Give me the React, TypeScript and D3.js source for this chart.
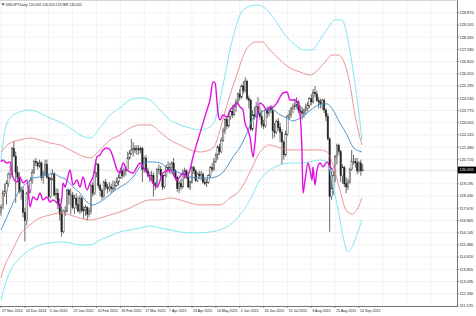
import React from 'react';
import * as d3 from 'd3';

const W = 476;
const H = 316;

// OHLC per daily bar: [open, high, low, close]
const candles: [number, number, number, number][] = [
  [117.40,117.90,117.20,117.70],[117.70,118.80,117.60,118.60],[118.60,119.20,118.40,118.70],[118.70,119.40,117.90,119.20],
  [119.20,119.90,119.00,119.80],[119.80,120.30,119.50,119.80],[119.80,121.50,119.60,121.40],[121.40,121.85,120.90,120.90],
  [120.90,121.20,118.00,119.90],[119.90,120.30,119.30,119.60],[119.60,119.90,118.60,118.70],[118.70,119.00,118.20,118.80],
  [118.80,119.00,117.10,117.40],[117.40,117.70,115.60,116.90],[116.90,118.70,116.60,118.60],[118.60,119.10,118.20,118.80],
  [118.80,119.60,118.60,119.40],[119.40,120.10,119.20,119.90],[119.90,120.70,119.80,120.60],[120.60,120.80,120.30,120.50],
  [120.50,120.60,120.10,120.30],[120.30,120.70,120.20,120.50],[120.50,120.60,119.40,119.60],[119.60,120.00,119.20,119.80],
  [119.80,120.70,119.70,120.40],[120.40,120.70,119.50,119.60],[119.60,119.80,118.10,118.40],[118.40,119.60,118.30,119.50],
  [119.50,120.10,119.40,119.80],[119.80,119.90,118.40,118.50],[118.50,118.90,118.20,118.60],[118.60,118.90,117.60,117.90],
  [117.90,118.30,116.90,117.30],[117.30,117.80,115.90,116.20],[116.20,117.60,116.10,117.50],[117.50,117.80,117.20,117.50],
  [117.50,118.90,117.40,118.80],[118.80,118.90,117.90,118.50],[118.50,118.90,117.30,118.50],[118.50,118.70,117.60,117.70],
  [117.70,118.50,117.30,118.30],[118.30,118.60,117.60,117.90],[117.90,118.40,117.40,117.50],[117.50,118.50,117.30,118.30],
  [118.30,118.40,117.40,117.50],[117.50,117.80,117.00,117.60],[117.60,117.90,117.20,117.70],[117.70,117.80,116.90,117.30],
  [117.30,117.70,117.10,117.50],[117.50,119.20,117.30,119.10],[119.10,119.30,118.40,118.60],[118.60,120.00,118.50,119.90],
  [119.90,120.50,119.60,120.40],[120.40,120.50,118.90,119.10],[119.10,119.20,118.40,118.80],[118.80,118.90,118.20,118.40],
  [118.40,119.40,118.30,119.30],[119.30,119.50,118.80,119.00],[119.00,119.20,118.60,118.90],[118.90,119.30,118.70,119.00],
  [119.00,119.20,118.60,118.90],[118.90,119.40,118.70,118.90],[118.90,119.40,118.80,119.10],[119.10,119.60,119.00,119.30],
  [119.30,119.80,119.10,119.60],[119.60,120.20,119.50,120.00],[120.00,120.10,119.50,119.70],[119.70,120.20,119.60,120.00],
  [120.00,120.20,119.70,120.10],[120.10,121.20,120.00,120.80],[120.80,121.30,120.70,121.10],[121.10,122.00,121.00,121.30],
  [121.30,121.80,120.90,121.40],[121.40,121.60,121.10,121.30],[121.30,121.60,121.00,121.40],[121.40,121.60,121.00,121.30],
  [121.30,121.50,121.10,121.40],[121.40,121.50,119.30,120.10],[120.10,120.90,119.90,120.80],[120.80,121.00,119.90,120.00],
  [120.00,120.20,119.60,119.70],[119.70,119.90,119.30,119.70],[119.70,120.00,119.40,119.70],[119.70,119.90,118.40,119.20],
  [119.20,119.30,118.80,119.10],[119.10,120.20,119.00,120.10],[120.10,120.40,119.80,120.10],[120.10,120.30,119.60,119.70],
  [119.70,119.80,118.80,119.00],[119.00,119.80,118.90,119.70],[119.70,120.40,119.60,120.20],[120.20,120.60,119.90,120.10],
  [120.10,120.50,119.80,120.20],[120.20,120.60,120.00,120.50],[120.50,120.80,119.80,120.00],[120.00,120.10,119.40,119.60],
  [119.60,119.70,118.70,118.90],[118.90,119.40,118.60,119.20],[119.20,119.50,118.80,119.00],[119.00,120.10,118.90,119.80],
  [119.80,120.20,119.50,120.00],[120.00,120.10,119.50,119.60],[119.60,119.90,118.90,119.00],[119.00,119.40,118.80,119.30],
  [119.30,120.30,119.20,120.20],[120.20,120.30,119.80,120.00],[120.00,120.10,119.30,119.40],[119.40,119.90,119.30,119.80],
  [119.80,120.00,119.50,119.70],[119.70,120.00,119.40,119.80],[119.80,119.90,119.20,119.30],[119.30,119.60,119.10,119.20],
  [119.20,119.50,119.00,119.30],[119.30,119.80,119.20,119.70],[119.70,120.30,119.60,120.20],[120.20,120.50,119.90,120.10],
  [120.10,120.80,120.00,120.60],[120.60,121.10,120.50,121.00],[121.00,121.60,120.70,121.50],[121.50,121.70,121.00,121.20],
  [121.20,122.10,121.10,121.90],[121.90,122.70,121.80,122.50],[122.50,123.30,122.30,123.20],[123.20,123.40,122.60,122.80],
  [122.80,123.50,122.70,123.40],[123.40,123.90,123.20,123.70],[123.70,124.10,123.30,123.50],[123.50,124.20,123.40,124.00],
  [124.00,124.50,123.70,124.30],[124.30,124.90,124.10,124.80],[124.80,125.10,124.40,124.60],[124.60,125.40,124.50,125.30],
  [125.30,125.60,124.80,125.00],[125.00,125.85,124.90,125.60],[125.60,125.70,124.40,124.50],[124.50,124.70,123.90,124.40],
  [124.40,124.50,122.50,122.60],[122.60,123.80,122.50,123.50],[123.50,124.00,123.20,123.40],[123.40,124.30,123.30,124.00],
  [124.00,124.60,123.50,123.60],[123.60,124.00,123.20,123.40],[123.40,123.80,122.70,122.90],[122.90,123.20,122.60,122.80],
  [122.80,123.90,122.70,123.80],[123.80,124.00,123.30,123.60],[123.60,124.00,123.40,123.90],[123.90,124.10,123.60,123.80],
  [123.80,124.00,122.00,122.50],[122.50,123.00,122.10,122.40],[122.40,123.20,122.30,123.10],[123.10,123.30,122.50,122.70],
  [122.70,123.00,121.80,122.40],[122.40,122.60,120.40,121.80],[121.80,121.90,120.70,121.00],[121.00,122.50,120.90,122.30],
  [122.30,123.50,122.20,123.40],[123.40,123.80,123.20,123.50],[123.50,124.00,123.30,123.90],[123.90,124.20,123.60,124.00],
  [124.00,124.50,123.80,124.10],[124.10,124.60,123.90,124.30],[124.30,124.40,123.60,123.80],[123.80,124.10,123.40,123.70],
  [123.70,124.00,123.20,123.60],[123.60,123.90,123.30,123.80],[123.80,124.20,123.50,124.00],[123.90,124.30,123.70,124.10],
  [124.10,124.60,123.90,124.50],[124.50,124.80,124.10,124.30],[124.30,125.10,124.20,124.90],[124.90,125.30,124.60,124.80],
  [124.80,125.00,124.30,124.40],[124.40,124.60,123.90,124.30],[124.30,124.50,123.90,124.20],[124.20,124.50,123.80,124.40],
  [124.40,124.50,123.60,123.80],[123.80,123.90,123.10,123.40],[123.40,123.60,121.90,122.00],[122.00,122.10,116.20,118.40],
  [118.40,120.00,118.20,118.90],[118.90,120.00,118.50,119.70],[119.70,121.00,119.30,120.90],[120.90,121.70,120.40,121.60],
  [121.60,121.70,121.00,121.20],[121.20,121.30,119.30,119.70],[119.70,120.40,119.20,120.20],[120.20,120.30,119.00,119.20],
  [119.20,119.60,118.60,119.00],[119.00,119.50,118.80,119.30],[119.30,120.20,119.20,120.10],[120.10,121.30,120.00,120.60],
  [120.60,121.00,120.40,120.60],[120.60,120.80,120.20,120.50],[120.50,120.80,119.80,120.00],[120.00,120.60,119.90,120.50],
  [120.50,120.70,119.70,120.00],[120.056,120.410,119.988,120.055],
];

// [bar index, price]
const blueMA: [number, number][] = [
  [0,116.32],[3.3,117.13],[6.5,118.00],[10.3,118.81],[14.2,119.25],[17.4,119.56],[21.2,119.62],[25.1,119.75],
  [28.3,119.87],[32.1,119.62],[35.9,119.43],[39.2,118.99],[43,118.62],[46.8,118.06],[50.1,117.87],[53.9,118.06],
  [57.7,118.37],[61,118.69],[64.8,118.99],[68.6,119.25],[71.9,119.62],[75.7,120.25],[79.5,120.56],[82.8,120.56],
  [86.6,120.50],[92,120.06],[97.5,119.87],[102.9,119.62],[108.4,119.56],[113.8,119.56],[119.3,119.75],[123.1,120.25],
  [126.4,120.87],[130.2,121.49],[134,122.37],[137.3,123.30],[141.1,123.61],[144.9,123.80],[148.1,123.80],[152,123.49],
  [155.8,123.30],[159,123.12],[162.9,123.30],[168.3,123.75],[173.7,124.15],[177.6,124.18],[180.8,123.80],[184.6,122.99],
  [188.5,122.24],[191.7,121.49],[196.6,121.18],
];

const magentaLine: [number, number][] = [
  [0,120.56],[1,120.68],[3,120.49],[5,120.56],[6.5,119.62],[8.7,119.31],[10.3,119.62],[12,119.25],[14.2,119.43],
  [15.8,117.75],[17.4,118.37],[19.6,118.19],[21.2,118.62],[22.9,118.19],[25,118.37],[26.7,118.06],[28.3,118.19],
  [30.5,118.00],[32.1,117.75],[33.2,118.37],[33.8,119.25],[34.9,118.99],[36,119.43],[37.6,120.06],[39.2,119.12],
  [41.4,119.43],[43,118.99],[44.7,119.62],[46.8,118.81],[48.5,119.25],[50.1,119.62],[52.3,120.87],[53.9,120.99],
  [55.6,121.31],[57.7,121.43],[59.4,121.31],[61,120.87],[63.2,120.06],[64.8,119.87],[66.5,120.49],[68.6,120.06],
  [71.9,119.87],[74.1,120.25],[75.7,120.49],[77.3,120.25],[79.5,119.87],[81.2,119.56],[85,118.99],[88.2,119.87],
  [92,120.06],[95.9,119.43],[99.1,119.87],[101.3,119.62],[102.9,120.06],[104.6,120.87],[108.4,122.37],[112.2,123.80],
  [113.8,124.42],[115.5,125.55],[116.6,125.49],[117.7,124.24],[118.2,123.61],[119.3,123.18],[120.9,123.49],
  [123.1,123.36],[124.7,123.80],[126.4,123.99],[128.5,124.24],[130.2,123.99],[131.8,123.80],[132.9,122.99],
  [134.5,122.55],[135.6,122.12],[137.3,120.87],[138.3,121.74],[139.4,123.18],[141.1,124.24],[142.7,124.11],
  [144.9,123.80],[146.5,123.99],[148.2,123.99],[150.3,124.24],[152,124.61],[153.6,124.86],[155.8,124.92],
  [157.4,124.42],[160.1,124.42],[161.8,124.24],[162.9,123.49],[163.9,121.31],[164.5,118.62],[165.6,119.43],
  [167.2,120.49],[168.3,120.06],[169.4,119.43],[169.9,120.25],[171,119.12],[172.1,120.06],[173.8,120.49],
  [175.4,120.25],[177.6,120.56],[179.2,120.25],[180.8,120.06],
];

const redUpper: [number, number][] = [
  [0,121.18],[4.9,121.74],[10.3,121.93],[15.8,122.05],[21.2,121.93],[26.7,121.74],[32.1,121.62],[37.6,121.31],
  [43,120.99],[48.5,120.81],[53.9,121.31],[59.4,121.93],[64.8,122.24],[70.3,122.68],[75.7,122.87],[81.2,122.87],
  [86.6,122.43],[92,121.93],[97.5,121.62],[102.9,121.31],[108.4,121.18],[113.8,121.31],[116.6,121.62],[119.3,122.55],
  [122,123.68],[124.7,124.74],[127.5,125.67],[130.2,126.61],[132.9,127.42],[135.6,127.86],[138.3,128.04],[142.2,128.04],
  [146.5,127.54],[152,126.92],[157.4,126.42],[162.9,126.17],[168.3,125.98],[172.6,126.30],[176.5,126.80],[180.3,127.23],
  [183.6,127.23],[187.4,126.61],[190.1,125.36],[192.8,123.49],[196.6,121.62],
];

const redLower: [number, number][] = [
  [0,113.32],[2.2,114.13],[4.9,114.76],[7.6,115.38],[10.3,116.00],[15.8,116.63],[21.2,117.06],[26.7,117.25],
  [32.1,117.38],[37.6,117.25],[43,117.06],[48.5,116.94],[53.9,117.06],[59.4,117.25],[64.8,117.44],[70.3,117.69],
  [75.7,118.00],[81.2,118.19],[86.6,118.19],[92,118.31],[97.5,118.19],[102.9,118.00],[108.4,117.88],[113.8,117.88],
  [119.3,117.88],[124.7,118.31],[130.2,118.81],[135.6,119.93],[141.1,121.18],[146.5,121.62],[152,121.43],[157.4,121.31],
  [162.9,121.31],[168.3,121.31],[173.7,121.31],[177.6,121.18],[180.8,120.37],[184.6,118.81],[187.9,117.56],
  [191.2,117.31],[194.4,117.69],[196.6,118.31],
];

const cyanUpper: [number, number][] = [
  [0,120.68],[2.2,122.55],[4.9,123.30],[10.3,123.68],[15.8,123.80],[21.2,123.61],[26.7,123.30],[32.1,123.05],
  [37.6,122.68],[43,122.24],[48.5,122.05],[53.9,122.68],[59.4,123.49],[64.8,123.93],[70.3,124.42],[75.7,124.55],
  [81.2,124.42],[86.6,123.80],[92,123.18],[97.5,122.87],[102.9,122.68],[108.4,122.55],[113.8,122.74],[116.6,123.18],
  [119.3,124.42],[122,125.98],[124.7,127.54],[127.5,128.79],[130.2,129.73],[134.5,130.23],[140,130.35],[143.8,130.16],
  [149.2,129.42],[154.7,128.48],[160.1,127.86],[165.6,127.54],[169.4,127.54],[173.7,128.17],[178.1,128.92],
  [181.9,129.42],[185.7,129.42],[189,128.17],[191.7,126.30],[194.4,124.11],[196.6,121.93],
];

const cyanLower: [number, number][] = [
  [0,111.95],[2.2,112.88],[4.9,113.70],[10.3,114.57],[15.8,115.07],[21.2,115.38],[26.7,115.50],[32.1,115.57],
  [37.6,115.50],[43,115.38],[48.5,115.38],[53.9,115.69],[59.4,115.94],[64.8,116.19],[70.3,116.32],[75.7,116.44],
  [81.2,116.57],[86.6,116.44],[92,116.32],[97.5,116.19],[102.9,116.13],[108.4,116.13],[113.8,116.19],[119.3,116.32],
  [124.7,116.63],[130.2,117.25],[135.6,118.19],[141.1,119.43],[146.5,120.06],[152,120.37],[157.4,120.49],
  [162.9,120.49],[168.3,120.56],[173.7,120.68],[177.6,120.56],[180.8,119.12],[183.6,117.56],[186.3,115.88],
  [189,114.94],[191.7,115.38],[194.4,116.19],[196.6,116.94],
];

const priceTicks = [
  129.870, 129.105, 128.345, 127.580, 126.820, 126.055, 125.295, 124.530, 123.770, 123.005,
  122.245, 121.480, 120.720, 119.195, 118.430, 117.670, 116.905, 116.145, 115.380,
  114.620, 113.855, 113.095, 112.330, 111.570,
];
const gridPrices = [
  129.870, 129.105, 128.345, 127.580, 126.820, 126.055, 125.295, 124.530, 123.770, 123.005,
  122.245, 121.480, 120.720, 119.955, 119.195, 118.430, 117.670, 116.905, 116.145, 115.380,
  114.620, 113.855, 113.095, 112.330, 111.570,
];

const dateLabels = [
  '27 Nov 2014', '16 Dec 2014', '5 Jan 2015', '22 Jan 2015', '10 Feb 2015', '26 Feb 2015',
  '17 Mar 2015', '7 Apr 2015', '23 Apr 2015', '14 May 2015', '2 Jun 2015', '26 Jun 2015',
  '15 Jul 2015', '3 Aug 2015', '25 Aug 2015', '14 Sep 2015',
];
const labelStep = 13; // bars between time labels
const gridCount = 19;

const lastPrice = 120.055;
const title = 'USDJPY,Daily  120.056 120.410 119.988 120.055';

export default function App() {
  const plotRight = 457;
  const plotBottom = 306;
  const x = d3.scaleLinear().domain([0, 197]).range([1, 362.7]);
  const y = d3.scaleLinear().domain([111.57, 129.87]).range([306, 12.7]);

  const line = d3
    .line<[number, number]>()
    .x((d) => x(d[0]))
    .y((d) => y(d[1]))
    .curve(d3.curveMonotoneX);

  const font = '"Liberation Sans", Arial, sans-serif';
  const gridXs = d3.range(gridCount).map((k) => x(k * labelStep));

  return (
    <svg
      width={W}
      height={H}
      style={{ position: 'absolute', left: 0, top: 0, background: '#fff' }}
      fontFamily={font}
    >
      <defs>
        <clipPath id="plot">
          <rect x={0} y={0} width={plotRight} height={plotBottom} />
        </clipPath>
      </defs>
      <rect x={0} y={0} width={W} height={H} fill="#fff" />
      {/* grid */}
      <g stroke="#e2e2e2" strokeWidth={0.8} strokeDasharray="1,1">
        {gridPrices.map((p, i) => (
          <line key={'h' + i} x1={0} x2={plotRight} y1={y(p)} y2={y(p)} />
        ))}
        {gridXs.map((gx, i) => (
          <line key={'v' + i} x1={gx} x2={gx} y1={0} y2={plotBottom} />
        ))}
      </g>
      {/* bid line */}
      <line x1={0} x2={plotRight} y1={y(lastPrice)} y2={y(lastPrice)} stroke="#d0d0d0" strokeWidth={0.6} />

      <g clipPath="url(#plot)">
        {/* candles */}
        {candles.map((c, i) => {
          const [o, h, l, cl] = c;
          const cx = x(i);
          const up = cl >= o;
          const top = y(Math.max(o, cl));
          const bot = y(Math.min(o, cl));
          return (
            <g key={'c' + i}>
              <line x1={cx} x2={cx} y1={y(h)} y2={y(l)} stroke="#2a2a2a" strokeWidth={0.7} />
              <rect
                x={cx - 0.7}
                y={top}
                width={1.4}
                height={Math.max(0.5, bot - top)}
                fill={up ? '#ffffff' : '#1e1e1e'}
                stroke="#2a2a2a"
                strokeWidth={0.45}
              />
            </g>
          );
        })}
        {/* bands */}
        <path d={line(cyanUpper) || ''} fill="none" stroke="#7fe8f2" strokeWidth={1} />
        <path d={line(cyanLower) || ''} fill="none" stroke="#7fe8f2" strokeWidth={1} />
        <path d={line(redUpper) || ''} fill="none" stroke="#e57a7a" strokeWidth={0.8} />
        <path d={line(redLower) || ''} fill="none" stroke="#e57a7a" strokeWidth={0.8} />
        <path d={line(blueMA) || ''} fill="none" stroke="#3a8cc8" strokeWidth={0.9} />
        <path d={line(magentaLine) || ''} fill="none" stroke="#e011e0" strokeWidth={1.4} />
      </g>

      {/* frame */}
      <line x1={plotRight + 0.5} x2={plotRight + 0.5} y1={0} y2={plotBottom + 0.5} stroke="#555" strokeWidth={0.8} />
      <line x1={0} x2={plotRight + 0.5} y1={plotBottom + 0.5} y2={plotBottom + 0.5} stroke="#555" strokeWidth={0.8} />
      <line x1={0} x2={plotRight + 0.5} y1={0.5} y2={0.5} stroke="#bbb" strokeWidth={0.6} />

      {/* price axis */}
      {priceTicks.map((p, i) => (
        <g key={'pt' + i}>
          <line x1={plotRight} x2={plotRight + 2} y1={y(p)} y2={y(p)} stroke="#555" strokeWidth={0.6} />
          <text x={plotRight + 2.5} y={y(p)} dy="0.35em" fontSize={3.9} fill="#222">
            {p.toFixed(3)}
          </text>
        </g>
      ))}
      <rect x={plotRight + 1} y={y(lastPrice) - 3.4} width={W - plotRight - 1} height={6.8} fill="#000" />
      <text x={plotRight + 2.5} y={y(lastPrice)} dy="0.35em" fontSize={3.9} fill="#fff">
        {lastPrice.toFixed(3)}
      </text>

      {/* time axis */}
      {dateLabels.map((t, k) => {
        const gx = x(k * labelStep);
        return (
          <g key={'d' + k}>
            <line x1={gx} x2={gx} y1={plotBottom} y2={plotBottom + 2} stroke="#555" strokeWidth={0.6} />
            <text x={gx + 1} y={311} dy="0.35em" fontSize={3.6} fill="#222">
              {t}
            </text>
          </g>
        );
      })}

      {/* title */}
      <path d="M1.5,3.5 L4.5,3.5 L3,5.5 Z" fill="#222" />
      <text x={5.5} y={5} dy="0.35em" fontSize={3.5} fill="#222">
        {title}
      </text>
    </svg>
  );
}
